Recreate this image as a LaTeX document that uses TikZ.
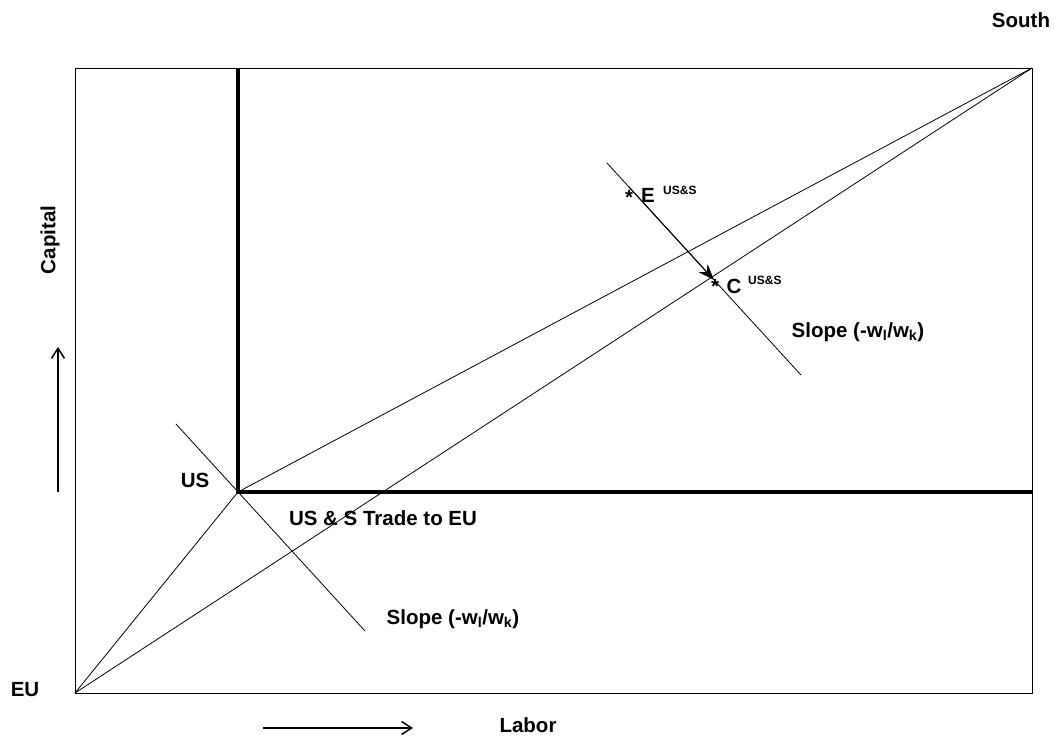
\documentclass[tikz,border=0pt]{standalone}
\usepackage{fontspec}
\setmainfont{Liberation Sans}
\usetikzlibrary{arrows.meta,positioning}

\begin{document}
\begin{tikzpicture}[
x=1pt, y=-1pt,
edge/.style={line width=0.8pt},
wall/.style={line width=3.6pt, line join=miter},
lbl/.style={inner sep=0pt, font=\fontsize{20.5}{24}\selectfont\bfseries},
sup/.style={inner sep=0pt, anchor=north west, font=\fontsize{12}{14}\selectfont\bfseries},
axis/.style={-{Straight Barb[length=10pt,width=13pt]}, line width=1.5pt},
move/.style={-{Stealth[length=16pt,width=12pt]}, line width=1pt},
]
\useasboundingbox (0,0) rectangle (1055,744);
% corners of the box
\coordinate (eu) at (75,693);
\coordinate (south) at (1032,68);
\coordinate (us) at (238,492);
\coordinate (ustop) at (238,68);
\coordinate (usright) at (1032,492);
% endowment and consumption
\coordinate (e) at (629,187);
\coordinate (c) at (714,280);
% price lines
\coordinate (s1a) at (176,424);
\coordinate (s1b) at (365,631);
\coordinate (s2a) at (607,163);
\coordinate (s2b) at (801,375);
% axis arrows
\coordinate (ka) at (58,492);
\coordinate (kb) at (58,347);
\coordinate (la) at (263,728);
\coordinate (lb) at (413,728);

\draw[edge] (eu) rectangle (south);
\draw[wall] (ustop) -- (us) -- (usright);
\draw[edge] (eu) -- (south);
\draw[edge] (eu) -- (us) -- (south);
\draw[edge] (s1a) -- (s1b);
\draw[edge] (s2a) -- (s2b);
\draw[move] (e) -- (c);
\draw[axis] (ka) -- (kb);
\draw[axis] (la) -- (lb);

\node[lbl] (eulbl) at (25,690) {EU};
\node[lbl] (southlbl) at (1021,20) {South};
\node[lbl] (uslbl) at (195,480) {US};
\node[lbl] (trade) at (383,518) {US \& S Trade to EU};
\node[lbl] (slope1) at (453,619) {Slope (-w\textsubscript{l}/w\textsubscript{k})};
\node[lbl] (slope2) at (858,332) {Slope (-w\textsubscript{l}/w\textsubscript{k})};
\node[lbl, rotate=90] (capital) at (50,240) {Capital};
\node[lbl] (labor) at (528,725) {Labor};
\node[lbl] (estar) at (629,197) {*};
\node[lbl] (cstar) at (715,286) {*};
\node[lbl] (elbl) at (648,195) {E};
\node[sup] (esup) at (663,186) {US\&S};
\node[lbl] (clbl) at (734,286) {C};
\node[sup] (csup) at (748,276) {US\&S};
\end{tikzpicture}
\end{document}
